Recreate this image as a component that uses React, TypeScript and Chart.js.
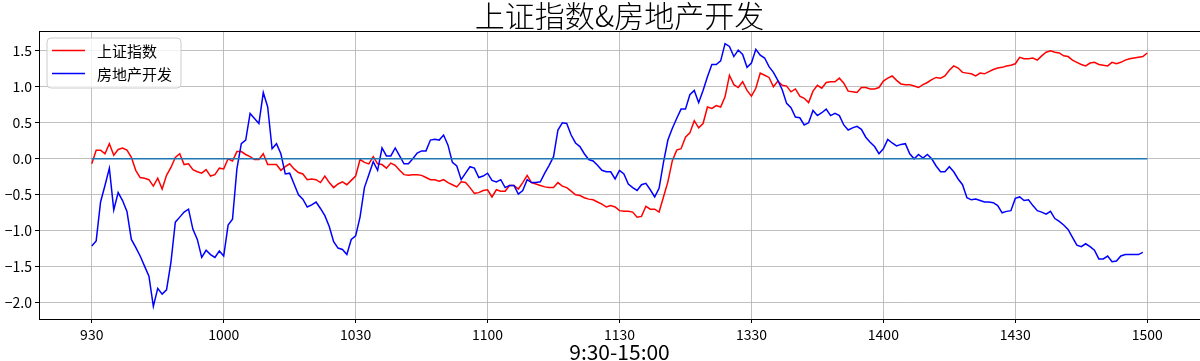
import React, { useEffect, useRef } from "react";
import { Chart, registerables } from "chart.js";

Chart.register(...registerables);

const TITLE = "上证指数&房地产开发";
const X_TITLE = "9:30-15:00";
const SERIES_NAMES = ["上证指数", "房地产开发"];
const TICK_POS = [0, 30, 60, 90, 120, 150, 180, 210, 240];
const TICK_LABELS = ["930", "1000", "1030", "1100", "1130", "1330", "1400", "1430", "1500"];
const Y_TICKS = [-2, -1.5, -1, -0.5, 0, 0.5, 1, 1.5];

// 上证指数 (241 minutes)
const SH = [
  -0.07, 0.12, 0.12, 0.07, 0.21, 0.05, 0.13, 0.15, 0.12, 0.02,
  -0.16, -0.26, -0.27, -0.29, -0.38, -0.27, -0.42, -0.23, -0.12, 0.02,
  0.07, -0.08, -0.07, -0.15, -0.18, -0.2, -0.15, -0.24, -0.22, -0.13,
  -0.14, 0.0, -0.03, 0.1, 0.1, 0.06, 0.03, -0.01, -0.01, 0.07,
  -0.08, -0.08, -0.08, -0.16, -0.11, -0.07, -0.14, -0.19, -0.21, -0.29,
  -0.28, -0.29, -0.33, -0.24, -0.33, -0.4, -0.35, -0.32, -0.36, -0.3,
  -0.24, -0.01, -0.05, -0.07, 0.03, -0.07, -0.08, -0.13, -0.06, -0.09,
  -0.16, -0.22, -0.23, -0.22, -0.22, -0.23, -0.26, -0.29, -0.29, -0.31,
  -0.29, -0.33, -0.36, -0.39, -0.32, -0.33, -0.4, -0.48, -0.47, -0.44,
  -0.43, -0.53, -0.43, -0.45, -0.45, -0.37, -0.37, -0.42, -0.33, -0.23,
  -0.33, -0.35, -0.37, -0.39, -0.4, -0.4, -0.33, -0.38, -0.4, -0.45,
  -0.5, -0.51, -0.54, -0.56, -0.57, -0.6, -0.63, -0.67, -0.65, -0.67,
  -0.72, -0.73, -0.73, -0.74, -0.81, -0.8, -0.66, -0.7, -0.7, -0.74,
  -0.53, -0.32, -0.03, 0.12, 0.14, 0.3, 0.36, 0.53, 0.43, 0.49,
  0.72, 0.7, 0.74, 0.72, 0.86, 1.16, 1.03, 0.99, 1.07, 0.95,
  0.87, 0.98, 1.19, 1.16, 1.13, 1.0, 1.08, 1.02, 1.01, 0.93,
  0.97, 0.87, 0.84, 0.78, 0.94, 1.02, 0.98, 1.06, 1.07, 1.07,
  1.12, 1.05, 0.94, 0.93, 0.92, 0.99, 0.99, 0.97, 0.97, 0.99,
  1.08, 1.12, 1.15, 1.09, 1.04, 1.03, 1.03, 1.01, 0.99, 1.03,
  1.06, 1.1, 1.13, 1.12, 1.15, 1.23, 1.29, 1.26, 1.2, 1.19,
  1.18, 1.15, 1.19, 1.18, 1.21, 1.24, 1.26, 1.27, 1.29, 1.3,
  1.32, 1.41, 1.39, 1.39, 1.4, 1.37, 1.43, 1.48, 1.5, 1.48,
  1.47, 1.43, 1.42, 1.37, 1.34, 1.31, 1.29, 1.33, 1.34, 1.31,
  1.3, 1.29, 1.34, 1.32, 1.34, 1.37, 1.39, 1.4, 1.41, 1.42,
  1.47,
];

// 房地产开发 (240 minutes)
const FDC = [
  -1.21, -1.14, -0.6, -0.37, -0.13, -0.71, -0.47, -0.58, -0.73, -1.12,
  -1.23, -1.35, -1.49, -1.63, -2.05, -1.8, -1.88, -1.82, -1.44, -0.88,
  -0.81, -0.74, -0.7, -0.98, -1.12, -1.37, -1.27, -1.33, -1.37, -1.28,
  -1.35, -0.92, -0.84, -0.14, 0.21, 0.26, 0.63, 0.56, 0.49, 0.92,
  0.72, 0.14, 0.21, 0.07, -0.21, -0.2, -0.35, -0.5, -0.56, -0.67,
  -0.64, -0.6, -0.69, -0.79, -0.94, -1.15, -1.24, -1.26, -1.33, -1.12,
  -1.07, -0.81, -0.4, -0.22, -0.04, -0.16, 0.15, 0.04, 0.04, 0.15,
  0.04, -0.07, -0.07, 0.0, 0.08, 0.11, 0.11, 0.26, 0.27, 0.26,
  0.33, 0.19, -0.05, -0.1, -0.29, -0.2, -0.11, -0.13, -0.26, -0.24,
  -0.2, -0.3, -0.32, -0.29, -0.4, -0.37, -0.37, -0.49, -0.44, -0.29,
  -0.33, -0.33, -0.32, -0.2, -0.09, 0.03, 0.4, 0.5, 0.49, 0.33,
  0.22, 0.17, 0.07, -0.01, -0.03, -0.09, -0.16, -0.18, -0.18, -0.28,
  -0.16, -0.21, -0.35, -0.4, -0.44, -0.36, -0.34, -0.43, -0.53, -0.41,
  -0.05, 0.26, 0.42, 0.56, 0.69, 0.69, 0.89, 0.95, 0.78, 0.95,
  1.14, 1.31, 1.31, 1.36, 1.6, 1.56, 1.42, 1.51, 1.45, 1.27,
  1.33, 1.52, 1.44, 1.4, 1.28, 1.2, 1.09, 0.96, 0.77, 0.71,
  0.58, 0.57, 0.47, 0.5, 0.67, 0.6, 0.64, 0.69, 0.6, 0.63,
  0.6, 0.47, 0.4, 0.43, 0.45, 0.41, 0.3, 0.23, 0.17, 0.07,
  0.14, 0.27, 0.22, 0.18, 0.2, 0.21, 0.07, 0.0, 0.06, 0.01,
  0.06, 0.0, -0.1, -0.18, -0.18, -0.11, -0.18, -0.28, -0.36, -0.54,
  -0.57, -0.56, -0.58, -0.6, -0.6, -0.61, -0.65, -0.75, -0.73, -0.72,
  -0.55, -0.53, -0.58, -0.57, -0.65, -0.72, -0.74, -0.77, -0.73, -0.83,
  -0.87, -0.92, -0.98, -1.09, -1.2, -1.22, -1.18, -1.22, -1.27, -1.39,
  -1.39, -1.35, -1.43, -1.42, -1.35, -1.33, -1.33, -1.33, -1.33, -1.3,
];

const ZERO_LEVEL = 0;

const FONT = "'Noto Sans CJK SC', 'Noto Sans', sans-serif";

const decoPlugin = {
  id: "deco",
  afterDraw(chart: any) {
    const ctx = chart.ctx as CanvasRenderingContext2D;
    const a = chart.chartArea;
    ctx.save();
    // frame (spines)
    ctx.strokeStyle = "#000";
    ctx.lineWidth = 1;
    ctx.strokeRect(
      Math.round(a.left) + 0.5,
      Math.round(a.top) + 0.5,
      Math.round(a.right - a.left),
      Math.round(a.bottom - a.top)
    );
    // title
    ctx.fillStyle = "#000";
    ctx.textAlign = "center";
    ctx.textBaseline = "middle";
    ctx.font = `300 30px ${FONT}`;
    ctx.fillText(TITLE, (a.left + a.right) / 2, 16);
    // x axis title
    ctx.font = `21px ${FONT}`;
    ctx.fillText(X_TITLE, (a.left + a.right) / 2, 352);
    // legend
    const lx = a.left + 8;
    const ly = a.top + 7;
    const lw = 134;
    const lh = 50;
    const r = 4;
    ctx.beginPath();
    ctx.moveTo(lx + r, ly);
    ctx.lineTo(lx + lw - r, ly);
    ctx.quadraticCurveTo(lx + lw, ly, lx + lw, ly + r);
    ctx.lineTo(lx + lw, ly + lh - r);
    ctx.quadraticCurveTo(lx + lw, ly + lh, lx + lw - r, ly + lh);
    ctx.lineTo(lx + r, ly + lh);
    ctx.quadraticCurveTo(lx, ly + lh, lx, ly + lh - r);
    ctx.lineTo(lx, ly + r);
    ctx.quadraticCurveTo(lx, ly, lx + r, ly);
    ctx.closePath();
    ctx.fillStyle = "rgba(255,255,255,0.8)";
    ctx.fill();
    ctx.strokeStyle = "#cccccc";
    ctx.lineWidth = 1;
    ctx.stroke();
    const colors = ["#ff0000", "#0000ff"];
    const rows = [ly + 12.5, ly + 35.5];
    ctx.font = `15px ${FONT}`;
    ctx.textAlign = "left";
    SERIES_NAMES.forEach((name, k) => {
      ctx.strokeStyle = colors[k];
      ctx.lineWidth = 1.5;
      ctx.beginPath();
      ctx.moveTo(lx + 5, rows[k]);
      ctx.lineTo(lx + 38, rows[k]);
      ctx.stroke();
      ctx.fillStyle = "#000";
      ctx.fillText(name, lx + 50, rows[k] + 1);
    });
    ctx.restore();
  },
};

export default function App() {
  const ref = useRef<HTMLCanvasElement | null>(null);
  useEffect(() => {
    document.body.style.margin = "0";
    const canvas = ref.current;
    if (!canvas) return;
    const chart = new Chart(canvas, {
      type: "line",
      data: {
        datasets: [
          {
            label: SERIES_NAMES[0],
            data: SH.map((y, i) => ({ x: i, y })),
            borderColor: "#ff0000",
            borderWidth: 1.5,
            pointRadius: 0,
            tension: 0,
            fill: false,
            order: 2,
          },
          {
            label: SERIES_NAMES[1],
            data: FDC.map((y, i) => ({ x: i, y })),
            borderColor: "#0000ff",
            borderWidth: 1.5,
            pointRadius: 0,
            tension: 0,
            fill: false,
            order: 1,
          },
          {
            label: "zero",
            data: SH.map((_, i) => ({ x: i, y: ZERO_LEVEL })),
            borderColor: "#1f77b4",
            borderWidth: 1.5,
            pointRadius: 0,
            tension: 0,
            fill: false,
            order: 0,
          },
        ],
      },
      options: {
        animation: false,
        responsive: false,
        devicePixelRatio: 1,
        layout: { padding: { top: 31, right: 0, left: 0, bottom: 0 } },
        plugins: {
          legend: { display: false },
          title: { display: false },
          tooltip: { enabled: false },
        },
        scales: {
          x: {
            type: "linear",
            min: -12,
            max: 252,
            afterBuildTicks: (s: any) => {
              s.ticks = TICK_POS.map((v) => ({ value: v }));
            },
            afterFit: (s: any) => {
              s.height = 42;
            },
            ticks: {
              autoSkip: false,
              maxRotation: 0,
              color: "#000",
              padding: 3,
              font: { family: FONT, size: 14 },
              callback: (v: any) => {
                const k = TICK_POS.indexOf(Number(v));
                return k >= 0 ? TICK_LABELS[k] : "";
              },
            },
            grid: {
              color: "#b0b0b0",
              lineWidth: 0.8,
              tickColor: "#000",
              tickLength: 4,
              tickWidth: 1,
            },
            border: { display: false },
          },
          y: {
            type: "linear",
            min: -2.225,
            max: 1.775,
            afterBuildTicks: (s: any) => {
              s.ticks = Y_TICKS.map((v) => ({ value: v }));
            },
            afterFit: (s: any) => {
              s.width = 39;
            },
            ticks: {
              color: "#000",
              padding: 3,
              font: { family: FONT, size: 14 },
              callback: (v: any) => Number(v).toFixed(1).replace("-", "\u2212"),
            },
            grid: {
              color: "#b0b0b0",
              lineWidth: 0.8,
              tickColor: "#000",
              tickLength: 4,
              tickWidth: 1,
            },
            border: { display: false },
          },
        },
      },
      plugins: [decoPlugin],
    } as any);
    return () => chart.destroy();
  }, []);
  return (
    <canvas
      ref={ref}
      width={1200}
      height={361}
      style={{ display: "block", width: 1200, height: 361 }}
    />
  );
}
